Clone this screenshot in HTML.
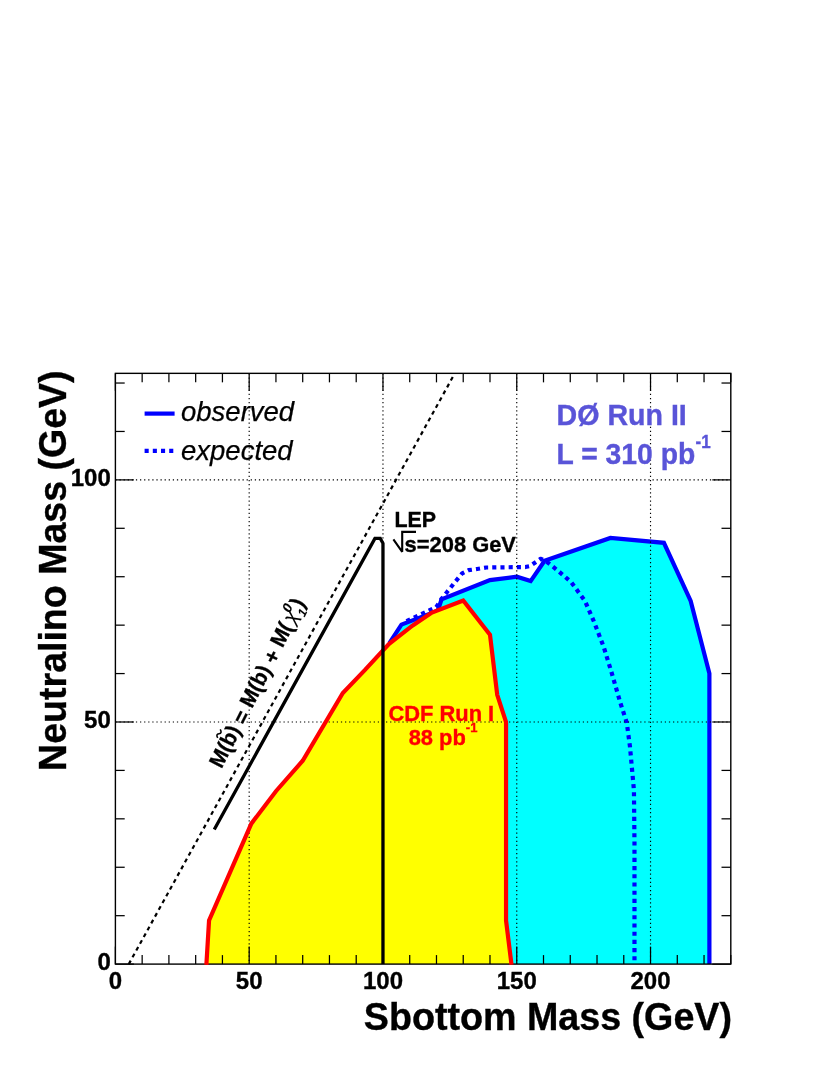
<!DOCTYPE html>
<html><head><meta charset="utf-8"><title>Sbottom exclusion</title>
<style>html,body{margin:0;padding:0;background:#fff}svg{display:block;will-change:transform}text{font-family:"Liberation Sans", sans-serif}</style>
</head><body>
<svg width="830" height="1075" viewBox="0 0 830 1075">
<rect width="830" height="1075" fill="#fff"/>
<polygon points="389.39,964.10 389.39,643.06 401.43,624.66 437.82,610.62 441.56,599.24 489.99,580.11 516.75,576.72 530.66,581.08 544.57,560.74 610.40,537.99 663.91,542.83 690.67,600.93 709.39,673.57 709.39,964.10" fill="#00ffff"/>
<polyline points="389.39,643.06 401.43,624.66 437.82,610.62 441.56,599.24 489.99,580.11 516.75,576.72 530.66,581.08 544.57,560.74 610.40,537.99 663.91,542.83 690.67,600.93 709.39,673.57 709.39,964.10" fill="none" stroke="#0000ff" stroke-width="4.2" stroke-linejoin="miter"/>
<polyline points="406.51,621.27 436.21,607.23 441.83,598.51 446.91,592.22 454.67,582.53 462.16,573.33 468.59,570.19 477.15,568.98 486.25,567.52 525.31,567.04 530.13,566.07 540.56,558.81 544.84,560.26 558.22,570.91 571.06,582.05 584.98,600.93 593.81,621.27 603.71,646.94 611.47,672.11 620.30,702.62 626.72,722.47 629.93,746.20 633.94,790.26 634.48,843.04 634.48,964.10" fill="none" stroke="#0000ff" stroke-width="4.2" stroke-dasharray="4.1 4.1" stroke-linejoin="round"/>
<polygon points="206.37,964.10 209.05,920.52 251.32,823.68 275.94,791.23 302.70,760.73 342.83,692.94 364.77,670.18 388.85,644.03 412.40,625.63 431.93,612.56 463.23,600.45 489.99,634.83 497.22,694.87 506.05,721.99 506.05,920.52 511.53,964.10" fill="#ffff00"/>
<g stroke="#000" stroke-width="1.15" stroke-dasharray="1.25 2.85" fill="none"><line x1="249.18" y1="373.35" x2="249.18" y2="964.10"/><line x1="382.97" y1="373.35" x2="382.97" y2="964.10"/><line x1="516.75" y1="373.35" x2="516.75" y2="964.10"/><line x1="650.53" y1="373.35" x2="650.53" y2="964.10"/><line x1="115.40" y1="721.99" x2="730.80" y2="721.99"/><line x1="115.40" y1="479.88" x2="730.80" y2="479.88"/></g>
<g stroke="#000" stroke-width="1.25" fill="none"><line x1="115.40" y1="964.10" x2="115.40" y2="946.60"/><line x1="115.40" y1="373.35" x2="115.40" y2="390.85"/><line x1="142.16" y1="964.10" x2="142.16" y2="955.10"/><line x1="142.16" y1="373.35" x2="142.16" y2="382.35"/><line x1="168.91" y1="964.10" x2="168.91" y2="955.10"/><line x1="168.91" y1="373.35" x2="168.91" y2="382.35"/><line x1="195.67" y1="964.10" x2="195.67" y2="955.10"/><line x1="195.67" y1="373.35" x2="195.67" y2="382.35"/><line x1="222.43" y1="964.10" x2="222.43" y2="955.10"/><line x1="222.43" y1="373.35" x2="222.43" y2="382.35"/><line x1="249.18" y1="964.10" x2="249.18" y2="946.60"/><line x1="249.18" y1="373.35" x2="249.18" y2="390.85"/><line x1="275.94" y1="964.10" x2="275.94" y2="955.10"/><line x1="275.94" y1="373.35" x2="275.94" y2="382.35"/><line x1="302.70" y1="964.10" x2="302.70" y2="955.10"/><line x1="302.70" y1="373.35" x2="302.70" y2="382.35"/><line x1="329.45" y1="964.10" x2="329.45" y2="955.10"/><line x1="329.45" y1="373.35" x2="329.45" y2="382.35"/><line x1="356.21" y1="964.10" x2="356.21" y2="955.10"/><line x1="356.21" y1="373.35" x2="356.21" y2="382.35"/><line x1="382.97" y1="964.10" x2="382.97" y2="946.60"/><line x1="382.97" y1="373.35" x2="382.97" y2="390.85"/><line x1="409.72" y1="964.10" x2="409.72" y2="955.10"/><line x1="409.72" y1="373.35" x2="409.72" y2="382.35"/><line x1="436.48" y1="964.10" x2="436.48" y2="955.10"/><line x1="436.48" y1="373.35" x2="436.48" y2="382.35"/><line x1="463.23" y1="964.10" x2="463.23" y2="955.10"/><line x1="463.23" y1="373.35" x2="463.23" y2="382.35"/><line x1="489.99" y1="964.10" x2="489.99" y2="955.10"/><line x1="489.99" y1="373.35" x2="489.99" y2="382.35"/><line x1="516.75" y1="964.10" x2="516.75" y2="946.60"/><line x1="516.75" y1="373.35" x2="516.75" y2="390.85"/><line x1="543.50" y1="964.10" x2="543.50" y2="955.10"/><line x1="543.50" y1="373.35" x2="543.50" y2="382.35"/><line x1="570.26" y1="964.10" x2="570.26" y2="955.10"/><line x1="570.26" y1="373.35" x2="570.26" y2="382.35"/><line x1="597.02" y1="964.10" x2="597.02" y2="955.10"/><line x1="597.02" y1="373.35" x2="597.02" y2="382.35"/><line x1="623.77" y1="964.10" x2="623.77" y2="955.10"/><line x1="623.77" y1="373.35" x2="623.77" y2="382.35"/><line x1="650.53" y1="964.10" x2="650.53" y2="946.60"/><line x1="650.53" y1="373.35" x2="650.53" y2="390.85"/><line x1="677.29" y1="964.10" x2="677.29" y2="955.10"/><line x1="677.29" y1="373.35" x2="677.29" y2="382.35"/><line x1="704.04" y1="964.10" x2="704.04" y2="955.10"/><line x1="704.04" y1="373.35" x2="704.04" y2="382.35"/><line x1="730.80" y1="964.10" x2="730.80" y2="955.10"/><line x1="730.80" y1="373.35" x2="730.80" y2="382.35"/><line x1="115.40" y1="964.10" x2="133.90" y2="964.10"/><line x1="730.80" y1="964.10" x2="712.30" y2="964.10"/><line x1="115.40" y1="915.68" x2="124.70" y2="915.68"/><line x1="730.80" y1="915.68" x2="721.50" y2="915.68"/><line x1="115.40" y1="867.26" x2="124.70" y2="867.26"/><line x1="730.80" y1="867.26" x2="721.50" y2="867.26"/><line x1="115.40" y1="818.83" x2="124.70" y2="818.83"/><line x1="730.80" y1="818.83" x2="721.50" y2="818.83"/><line x1="115.40" y1="770.41" x2="124.70" y2="770.41"/><line x1="730.80" y1="770.41" x2="721.50" y2="770.41"/><line x1="115.40" y1="721.99" x2="133.90" y2="721.99"/><line x1="730.80" y1="721.99" x2="712.30" y2="721.99"/><line x1="115.40" y1="673.57" x2="124.70" y2="673.57"/><line x1="730.80" y1="673.57" x2="721.50" y2="673.57"/><line x1="115.40" y1="625.15" x2="124.70" y2="625.15"/><line x1="730.80" y1="625.15" x2="721.50" y2="625.15"/><line x1="115.40" y1="576.72" x2="124.70" y2="576.72"/><line x1="730.80" y1="576.72" x2="721.50" y2="576.72"/><line x1="115.40" y1="528.30" x2="124.70" y2="528.30"/><line x1="730.80" y1="528.30" x2="721.50" y2="528.30"/><line x1="115.40" y1="479.88" x2="133.90" y2="479.88"/><line x1="730.80" y1="479.88" x2="712.30" y2="479.88"/><line x1="115.40" y1="431.46" x2="124.70" y2="431.46"/><line x1="730.80" y1="431.46" x2="721.50" y2="431.46"/><line x1="115.40" y1="383.03" x2="124.70" y2="383.03"/><line x1="730.80" y1="383.03" x2="721.50" y2="383.03"/></g>
<rect x="115.40" y="373.35" width="615.40" height="590.75" fill="none" stroke="#000" stroke-width="1.4"/>
<polyline points="206.37,964.83 209.05,920.52 251.32,823.68 275.94,791.23 302.70,760.73 342.83,692.94 364.77,670.18 388.85,644.03 412.40,625.63 431.93,612.56 463.23,600.45 489.99,634.83 497.22,694.87 506.05,721.99 506.05,920.52 511.53,964.83" fill="none" stroke="#ff0000" stroke-width="4.2" stroke-linejoin="miter"/>
<polyline points="214.27,829.49 374.94,538.47 380.29,538.47 382.97,543.31 382.97,964.10" fill="none" stroke="#000" stroke-width="3.3" stroke-linejoin="miter"/>
<line x1="128.78" y1="964.10" x2="453.60" y2="375.53" stroke="#000" stroke-width="2.2" stroke-dasharray="4 3.75"/>
<g font-weight="bold" fill="#000" stroke="#000" stroke-width="0.35">
<text transform="translate(115.40,988.50) scale(1,1.000)" font-size="24.00" text-anchor="middle">0</text>
<text transform="translate(249.18,988.50) scale(1,1.000)" font-size="24.00" text-anchor="middle">50</text>
<text transform="translate(382.97,988.50) scale(1,1.000)" font-size="24.00" text-anchor="middle">100</text>
<text transform="translate(516.75,988.50) scale(1,1.000)" font-size="24.00" text-anchor="middle">150</text>
<text transform="translate(650.53,988.50) scale(1,1.000)" font-size="24.00" text-anchor="middle">200</text>
<text transform="translate(110.80,970.20) scale(1,1.000)" font-size="24.00" text-anchor="end">0</text>
<text transform="translate(110.80,728.09) scale(1,1.000)" font-size="24.00" text-anchor="end">50</text>
<text transform="translate(110.80,485.98) scale(1,1.000)" font-size="24.00" text-anchor="end">100</text>
<text transform="translate(732.00,1029.90) scale(1,1.040)" font-size="37.65" text-anchor="end">Sbottom Mass (GeV)</text>
<text transform="translate(66.3,770.9) rotate(-90) scale(1,1.040)" font-size="37.55">Neutralino Mass (GeV)</text>
<text transform="translate(556.60,425.30) scale(1,1.040)" font-size="28.60" fill="#5954d8" stroke="#5954d8">D&#216; Run II</text>
<text transform="translate(556.60,464.20) scale(1,1.040)" font-size="28.30" fill="#5954d8" stroke="#5954d8">L = 310 pb</text>
<text transform="translate(695.50,448.30) scale(1,1.040)" font-size="17.00" fill="#5954d8" stroke="#5954d8">-1</text>
<text transform="translate(394.50,526.90) scale(1,1.040)" font-size="21.40">LEP</text>
<text transform="translate(404.60,552.10) scale(1,1.040)" font-size="21.90">s=208 GeV</text>
<text transform="translate(441.30,720.90) scale(1,1.040)" font-size="21.90" text-anchor="middle" fill="#ff0000" stroke="#ff0000">CDF Run I</text>
<text transform="translate(408.70,745.00) scale(1,1.040)" font-size="21.90" fill="#ff0000" stroke="#ff0000">88 pb</text>
<text transform="translate(465.80,731.60) scale(1,1.040)" font-size="13.00" fill="#ff0000" stroke="#ff0000">-1</text>
</g>
<polyline points="393.4,539.4 402.2,551.8 402.2,531.9 416,531.9" fill="none" stroke="#000" stroke-width="2.1" stroke-linejoin="miter" stroke-miterlimit="2"/>
<line x1="144.6" y1="413.6" x2="174.6" y2="413.6" stroke="#0000ff" stroke-width="4.2"/>
<line x1="144.6" y1="450.8" x2="177" y2="450.8" stroke="#0000ff" stroke-width="4.2" stroke-dasharray="4.1 4.1"/>
<g font-style="italic" font-size="27.5" stroke="#000" stroke-width="0.25"><text x="181" y="420.6">observed</text><text x="181" y="459.6">expected</text></g>
<g transform="translate(221.6,769.3) rotate(-63.2)" font-weight="bold" font-size="20.8" stroke="#000" stroke-width="0.3"><text transform="translate(0.00,0.00) scale(1,1.040)">M(b)</text><text transform="translate(49.37,1.60) scale(1,1.040)">=</text><text transform="translate(67.60,0.00) scale(1,1.040)">M(b)</text><text transform="translate(117.27,1.40) scale(1,1.040)">+</text><text transform="translate(135.20,0.00) scale(1,1.040)">M(</text><path d="M26.2,-17.6 c1.8,-2.6 3.1,-2.6 4.4,-0.8 s2.6,1.8 4.4,-0.8" fill="none" stroke-width="1.6"/><text x="161.6" y="-0.6" font-style="italic" font-weight="normal" font-size="20" stroke-width="0.1">&#967;</text><text x="170.0" y="-9.4" font-size="13.5" font-style="italic" stroke-width="0.1">0</text><text x="172.8" y="5.5" font-size="12" font-style="italic" stroke-width="0.1">1</text><text transform="translate(179.60,0.00) scale(1,1.040)">)</text></g>
</svg></body></html>
